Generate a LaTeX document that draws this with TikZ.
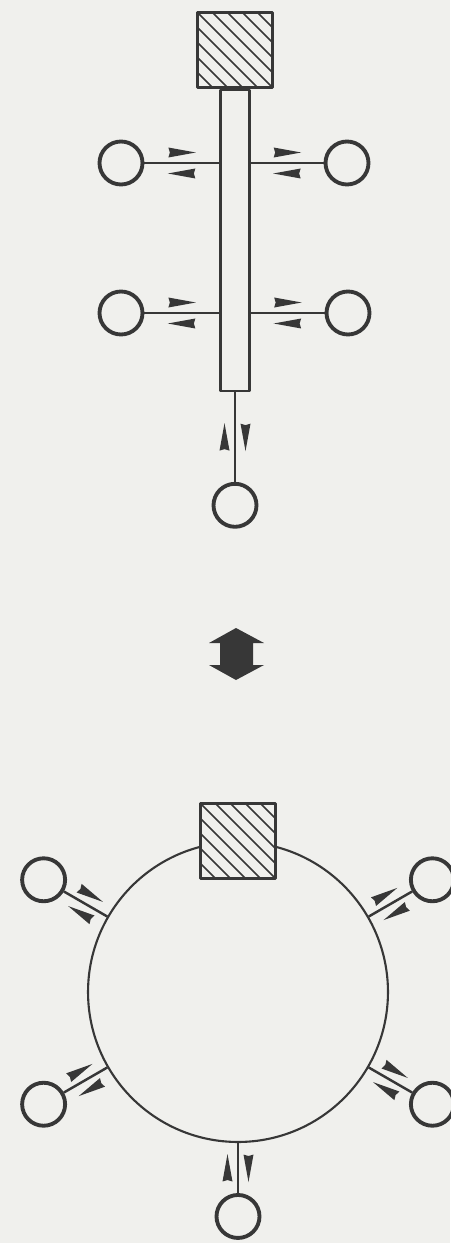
\documentclass[tikz,border=0pt]{standalone}
\usetikzlibrary{positioning,calc,decorations.markings}
\definecolor{paper}{RGB}{240,240,237}
\definecolor{ink}{RGB}{55,55,55}
\begin{document}
\begin{tikzpicture}[
  x=0.02cm, y=-0.02cm, color=ink, line join=round,
  station/.style={circle, draw, line width=2.2pt, minimum size=8.6mm, inner sep=0pt, fill=paper},
  hub/.style={rectangle, draw, line width=1.7pt, minimum size=1.5cm, inner sep=0pt, fill=paper,
    path picture={\foreach \k in {-7,...,7}
      \draw[line width=0.9pt] ([xshift=\k*3mm]path picture bounding box.center) ++(-1cm,1cm) -- ++(2cm,-2cm);}},
  pipe/.style={rectangle, draw, line width=1.4pt, minimum width=5.8mm, minimum height=60.2mm, inner sep=0pt, fill=paper},
  ring/.style={circle, draw, line width=1.2pt, minimum size=60mm, inner sep=0pt},
  spoke/.style={line width=1.4pt, postaction={decorate}, decoration={markings, mark=at position 0.5 with {
    \fill (0.28cm,0.21cm) -- (-0.27cm,0.31cm) -- (-0.24cm,0.21cm) -- (-0.27cm,0.11cm) -- cycle;
    \fill (-0.28cm,-0.21cm) -- (0.27cm,-0.11cm) -- (0.24cm,-0.21cm) -- (0.27cm,-0.31cm) -- cycle;}}},
  node distance=1.79cm]
\useasboundingbox[fill=paper] (0,0) rectangle (450,1243);
% straight line
\node[hub] (top) at (235,50) {};
\node[pipe, anchor=north] (bar) at (top.south) {};
\node[station] (west1) at (121,163) {};
\node[station] (east1) at (347,163) {};
\node[station] (west2) at (121,313) {};
\node[station] (east2) at (348,313) {};
\node[station, below=of bar] (tail) {};
\draw[spoke] (west1) -- (west1 -| bar.west);
\draw[spoke] (east1 -| bar.east) -- (east1);
\draw[spoke] (west2) -- (west2 -| bar.west);
\draw[spoke] (east2 -| bar.east) -- (east2);
\draw[spoke] (bar) -- (tail);
% equivalence
\fill (236,628) -- (264,643) -- (253,643) -- (253,665) -- (264,665) -- (236,680)
  -- (209,665) -- (220,665) -- (220,643) -- (209,643) -- cycle;
% ring
\node[ring] (ring) at (238,992) {};
\node[hub] (bot) at (ring.north) {};
\foreach \a/\n in {150/nw, 30/ne, 210/sw, 330/se, 270/s} {
  \node[station] (\n) at ($(ring)+(\a:4.49cm)$) {};
  \draw[spoke] (ring) -- (\n);
}
\end{tikzpicture}
\end{document}
